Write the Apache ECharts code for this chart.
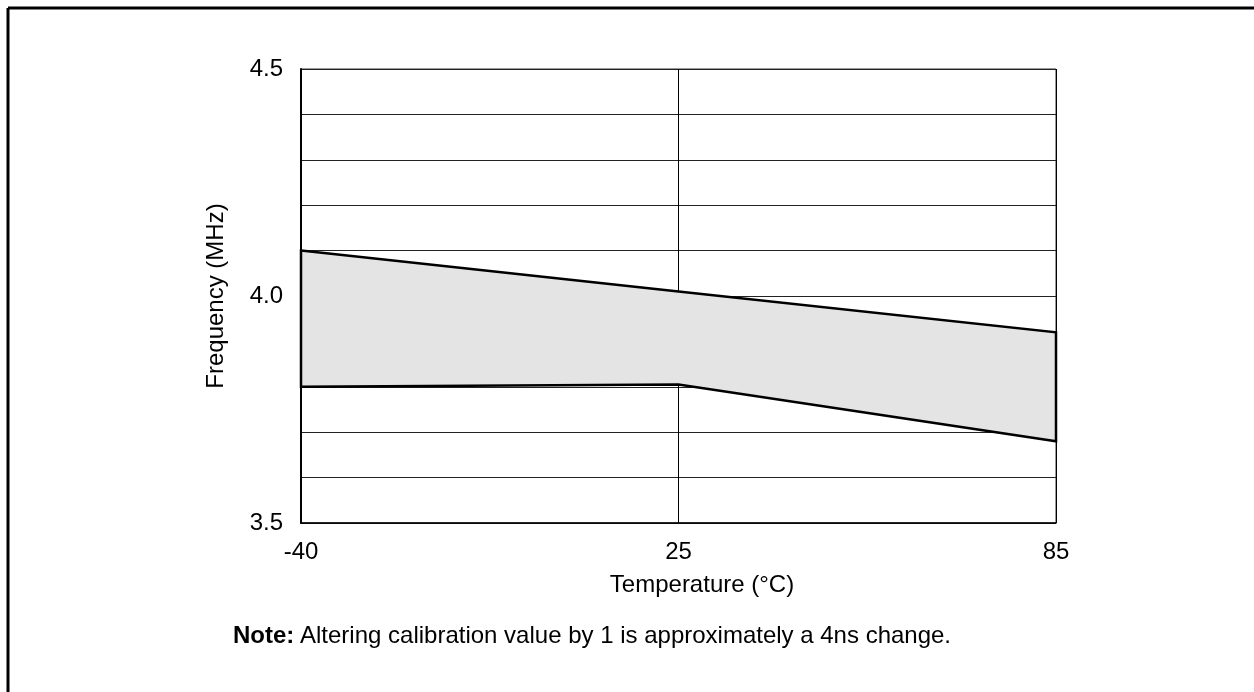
<!DOCTYPE html>
<html><head><meta charset="utf-8">
<script src="https://cdn.jsdelivr.net/npm/echarts@6/dist/echarts.min.js"></script>
<style>html,body{margin:0;padding:0;background:#fff}#c{width:1254px;height:692px}</style>
</head><body><div id="c"></div>
<script>
var categories = ['-40', '25', '85'];
var upperFreq = [4.10, 4.01, 3.92];
var lowerFreq = [3.80, 3.805, 3.68];
var yLabelValues = [3.5, 4.0, 4.5];
var xAxisTitle = 'Temperature (°C)';
var yAxisTitle = 'Frequency (MHz)';
var noteLabel = 'Note:';
var noteText = 'Altering calibration value by 1 is approximately a 4ns change.';

var FONT = '"Liberation Sans", Arial, sans-serif';
var FS = 24;
var chart = echarts.init(document.getElementById('c'), null, {renderer: 'canvas'});
chart.setOption({
  animation: false,
  backgroundColor: '#fff',
  grid: {left: 301, right: 198, top: 69, bottom: 169, show: true, borderColor: '#333', borderWidth: 1, containLabel: false},
  xAxis: {
    type: 'category', data: categories, boundaryGap: false,
    axisLine: {show: true, lineStyle: {color: '#000', width: 1.5}},
    axisTick: {show: false},
    axisLabel: {fontFamily: FONT, fontSize: FS, color: '#000', margin: 17},
    splitLine: {show: true, lineStyle: {color: '#000', width: 1}}
  },
  yAxis: {
    type: 'value', min: 3.5, max: 4.5, interval: 0.1,
    name: yAxisTitle, nameLocation: 'middle', nameGap: 73,
    nameTextStyle: {fontFamily: FONT, fontSize: FS, color: '#000'},
    axisLine: {show: true, lineStyle: {color: '#000', width: 2}},
    axisTick: {show: false},
    axisLabel: {fontFamily: FONT, fontSize: FS, color: '#000', margin: 18,
      formatter: function (v) {
        for (var i = 0; i < yLabelValues.length; i++) {
          if (Math.abs(v - yLabelValues[i]) < 1e-6) return yLabelValues[i].toFixed(1);
        }
        return '';
      }},
    splitLine: {show: true, lineStyle: {color: '#222', width: 1}}
  },
  series: [{
    type: 'custom',
    data: [0],
    z: 5,
    renderItem: function (params, api) {
      var pts = [];
      for (var i = 0; i < upperFreq.length; i++) pts.push(api.coord([i, upperFreq[i]]));
      for (var j = lowerFreq.length - 1; j >= 0; j--) pts.push(api.coord([j, lowerFreq[j]]));
      return {type: 'polygon', shape: {points: pts},
        style: {fill: '#e4e4e4', stroke: '#000', lineWidth: 2.5, lineJoin: 'miter'}};
    }
  }],
  graphic: [
    {type: 'line', shape: {x1: 8, y1: 8, x2: 1254, y2: 8}, style: {stroke: '#000', lineWidth: 3}},
    {type: 'line', shape: {x1: 8, y1: 8, x2: 8, y2: 692}, style: {stroke: '#000', lineWidth: 3}},
    {type: 'text', x: 702, y: 585, style: {text: xAxisTitle, fontFamily: FONT, fontSize: FS, fill: '#000', align: 'center', verticalAlign: 'middle'}},
    {type: 'text', x: 233, y: 636, style: {text: noteLabel, fontFamily: FONT, fontSize: FS, fontWeight: 'bold', fill: '#000', verticalAlign: 'middle'}},
    {type: 'text', x: 300, y: 636, style: {text: noteText, fontFamily: FONT, fontSize: FS, fill: '#000', verticalAlign: 'middle'}}
  ]
});
</script></body></html>
